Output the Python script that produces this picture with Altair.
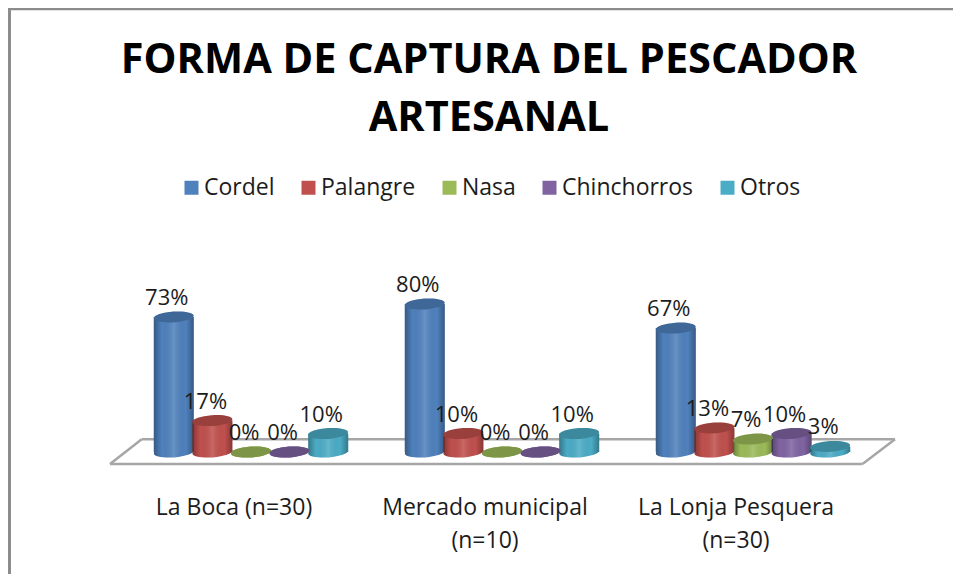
import altair as alt
import pandas as pd

grupos = ["La Boca (n=30)", "Mercado municipal (n=10)", "La Lonja Pesquera (n=30)"]
series = ["Cordel", "Palangre", "Nasa", "Chinchorros", "Otros"]
colores = ["#4F81BD", "#C0504D", "#9BBB59", "#8064A2", "#4BACC6"]
cordel = [73, 80, 67]
palangre = [17, 10, 13]
nasa = [0, 0, 7]
chinchorros = [0, 0, 10]
otros = [10, 10, 3]
valores = [cordel, palangre, nasa, chinchorros, otros]

filas = []
for s, vals in zip(series, valores):
    for g, v in zip(grupos, vals):
        filas.append({"grupo": g, "serie": s, "valor": v, "etiqueta": f"{v}%"})
df = pd.DataFrame(filas)

FONT = "Open Sans"
TEXT = "#1c1c1c"
ELIPSE = "M-0.998,0.07 A1,0.27 -4 1 1 0.998,-0.07 A1,0.27 -4 1 1 -0.998,0.07 Z"
SIZE = 1600

sombra = alt.LinearGradient(
    gradient="linear", x1=0, x2=1, y1=0, y2=0,
    stops=[
        alt.GradientStop(offset=0, color="rgba(0,0,0,0.3)"),
        alt.GradientStop(offset=0.2, color="rgba(0,0,0,0)"),
        alt.GradientStop(offset=0.5, color="rgba(255,255,255,0.14)"),
        alt.GradientStop(offset=0.8, color="rgba(0,0,0,0)"),
        alt.GradientStop(offset=1, color="rgba(0,0,0,0.3)"),
    ],
)

x = alt.X(
    "grupo:N", sort=grupos, title=None,
    scale=alt.Scale(paddingInner=0.231, paddingOuter=0.1155),
    axis=alt.Axis(
        labelFont=FONT, labelFontSize=23, labelColor=TEXT, labelAngle=0,
        labelOffset=-17, labelPadding=44, labelLimit=600, labelOverlap=False,
        labelLineHeight=33, ticks=False, domain=False, grid=False,
        labelExpr="datum.label == 'La Boca (n=30)' ? datum.label : split(replace(datum.label, ' (', '|('), '|')",
    ),
)
xo = alt.XOffset("serie:N", sort=series)
y = alt.Y("valor:Q", axis=None, scale=alt.Scale(domain=[0, 100], nice=False))
y0 = alt.Y("base:Q", axis=None, scale=alt.Scale(domain=[0, 100], nice=False))

# plot origin on page: (125.5, 267)
ox, oy = 125.5, 267

leyenda = alt.Legend(
    orient="none", legendX=180 - ox, legendY=176 - oy, direction="horizontal",
    columns=5, title=None, symbolType="square", symbolSize=196,
    symbolStrokeWidth=0, labelFont=FONT, labelFontSize=23, labelColor=TEXT,
    columnPadding=22, labelOffset=1, labelLimit=300, padding=0,
)
color = alt.Color("serie:N", scale=alt.Scale(domain=series, range=colores), legend=leyenda)

base = alt.Chart(df).transform_calculate(base="0")

def regla(x1, y1, x2, y2, color="#a6a6a6", w=2.5):
    return alt.Chart(df.head(1)).mark_rule(color=color, strokeWidth=w).encode(
        x=alt.value(x1), y=alt.value(y1), x2=alt.value(x2), y2=alt.value(y2)
    )

piso = [
    regla(110 - ox, 464 - oy, 862.5 - ox, 464 - oy),
    regla(110 - ox, 464 - oy, 141.7 - ox, 439.3 - oy),
    regla(141.7 - ox, 439.3 - oy, 895 - ox, 439.3 - oy),
    regla(862.5 - ox, 464 - oy, 895 - ox, 439.3 - oy),
]
marco = [
    regla(9.5 - ox, 8 - oy, 9.5 - ox, 574 - oy, "#8c8c8c", 3),
    regla(8 - ox, 9 - oy, 953 - ox, 9 - oy, "#8c8c8c", 2.5),
]

pie = base.mark_point(filled=True, shape=ELIPSE, size=SIZE, opacity=1).encode(
    x=x, xOffset=xo, y=y0, color=color
)
pie_s = base.mark_point(filled=True, shape=ELIPSE, size=SIZE, opacity=1, color=sombra).encode(
    x=x, xOffset=xo, y=y0
)
cuerpo = base.mark_bar(size=40).encode(
    x=x, xOffset=xo, y=y, y2=alt.Y2("base:Q"), color=color
)
cuerpo_s = base.mark_bar(size=40, color=sombra).encode(
    x=x, xOffset=xo, y=y, y2=alt.Y2("base:Q")
)
tapa = base.mark_point(filled=True, shape=ELIPSE, size=SIZE, opacity=1).encode(
    x=x, xOffset=xo, y=y, color=color
)
tapa_s = base.mark_point(filled=True, shape=ELIPSE, size=SIZE, opacity=1, color="rgba(0,0,0,0.2)").encode(
    x=x, xOffset=xo, y=y
)
texto = base.mark_text(
    font=FONT, fontSize=22, color=TEXT, dx=-7, dy=-19, baseline="middle"
).encode(x=x, xOffset=xo, y=y, text="etiqueta:N")

chart = alt.layer(
    *marco, *piso, pie, pie_s, cuerpo, cuerpo_s, tapa, tapa_s, texto
).properties(
    width=753, height=185,
    padding={"left": 117.5, "top": 259, "right": 74.5, "bottom": 122},
    autosize=alt.AutoSizeParams(type="none", contains="content"),
    background="#ffffff",
    title=alt.TitleParams(
        text=["FORMA DE CAPTURA DEL PESCADOR", "ARTESANAL"],
        font=FONT, fontSize=41.5, fontWeight="bold", color="#000000",
        anchor="middle", dx=-13, offset=-133, lineHeight=58,
    ),
).configure_view(stroke=None)

chart.save("out.html", embed_options={"renderer": "svg", "actions": False})
